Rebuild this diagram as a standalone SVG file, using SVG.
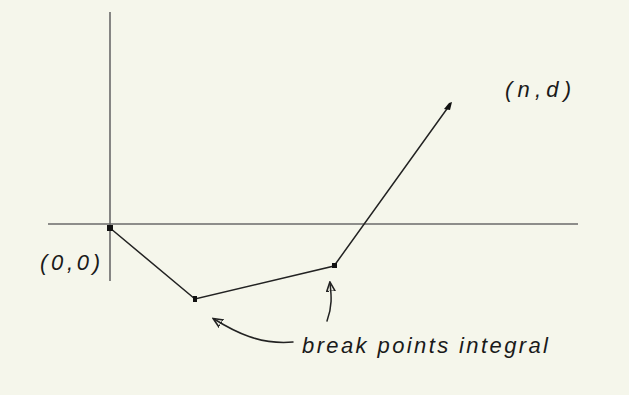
<svg xmlns="http://www.w3.org/2000/svg" width="629" height="395" viewBox="0 0 629 395">
<defs>
<style>
.ax{stroke:#6a6a6a;stroke-width:1.6;fill:none}
.ln{stroke:#222;stroke-width:1.5;fill:none;stroke-linecap:round}
.pt{fill:#111}
.t{font-family:"Liberation Sans",sans-serif;font-size:22px;fill:#1a1a1a;font-style:italic}
</style>
<marker id="ah" viewBox="0 0 10 10" refX="8" refY="5" markerWidth="7" markerHeight="7" orient="auto-start-reverse">
<path d="M0,1 L9,5 L0,9 Z" fill="none" stroke="#222" stroke-width="1.5"/>
</marker>
</defs>
<rect width="629" height="395" fill="#f5f6eb"/>
<g id="axes">
<line class="ax" x1="110" y1="12" x2="110" y2="281"/>
<line class="ax" x1="48" y1="224" x2="578" y2="224"/>
</g>
<g id="connectors">
<polyline class="ln" points="110,228 195,299 334,266 449,106"/>
<path class="ln" d="M293,342 C260,345 235,332 214,319" marker-end="url(#ah)"/>
<path class="ln" d="M327,321 C333,305 331,293 330,283" marker-end="url(#ah)"/>
</g>
<g id="origin">
<rect class="pt" x="107" y="225" width="6" height="6"/>
<text class="t" x="40" y="270" textLength="60" lengthAdjust="spacing">(0,0)</text>
</g>
<g id="p1"><rect class="pt" x="193" y="296" width="4" height="6"/></g>
<g id="p2"><rect class="pt" x="332" y="263" width="5" height="5"/></g>
<g id="end">
<path class="pt" d="M449,103 L452,102 L450,110 L444,109 Z"/>
<text class="t" x="505" y="97" textLength="66" lengthAdjust="spacing">(n,d)</text>
</g>
<g id="label">
<text class="t" x="302" y="353" textLength="246" lengthAdjust="spacing">break points integral</text>
</g>
</svg>
